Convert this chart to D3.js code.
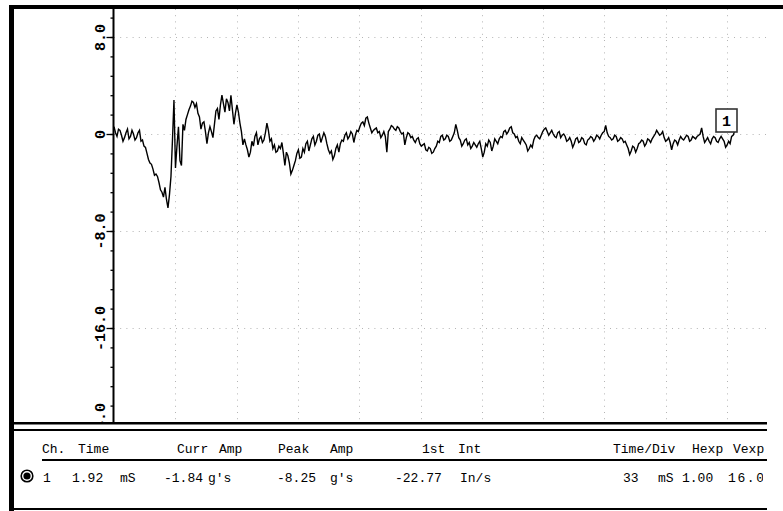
<!DOCTYPE html>
<html>
<head>
<meta charset="utf-8">
<script src="https://cdn.jsdelivr.net/npm/d3@7"></script>
<style>
  html, body { margin: 0; padding: 0; background: #fff; }
  svg { display: block; }
  text { font-family: "Liberation Mono", "DejaVu Sans Mono", monospace; fill: #000; }
</style>
</head>
<body>
<svg id="chart" width="783" height="511"></svg>
<script>
// Channel 1 acceleration trace, g's, sampled every ~0.8 ms
const accel = [
   0.6, 0.1,-0.2, 0.4, 0.3,-0.1,-0.6,-0.3, 0.1, 0.4,-0.4,-0.2, 0.3, 0.0,-0.5,-0.3, 0.1, 0.3,-0.6,-0.5,
  -1.0,-1.1,-1.6,-2.1,-2.4,-2.5,-2.9,-3.4,-3.3,-3.5,-4.0,-4.6,-4.8,-5.2,-4.4,-5.4,-6.1,-5.0,-3.5,-0.5,
   2.8,-2.8,-1.0, 0.6,-2.2,-2.6, 0.8, 0.3, 1.2, 1.6, 2.0, 2.3, 2.7, 2.6, 2.2, 2.5, 1.7, 1.4, 0.4, 0.9,
   1.0, 0.2,-0.8, 0.1, 0.6, 0.2,-0.3, 0.8, 1.9, 2.1, 1.2, 2.4, 3.2, 2.5, 1.8, 2.9, 2.6, 1.9, 3.2, 2.0,
   0.8, 1.7, 2.4, 1.8, 0.9, 0.2,-0.9,-0.4,-0.9,-1.3,-1.9,-1.5,-0.6,-1.0,-0.2, 0.1,-0.9,-0.4,-0.2,-0.7,
  -0.5, 0.1, 0.9, 0.3,-0.6,-0.4,-1.2,-0.9,-1.5,-1.4,-1.0,-1.2,-0.7,-1.6,-2.6,-1.5,-1.8,-2.4,-3.3,-3.0,
  -2.6,-2.2,-1.6,-1.3,-2.0,-1.9,-1.2,-1.5,-0.8,-0.6,-1.4,-0.9,-0.4,-0.2,-0.9,-0.6,-0.1, 0.0,-0.7,-0.3,
   0.1,-0.2,-0.8,-1.3,-1.6,-1.4,-2.1,-1.8,-1.2,-0.9,-1.5,-0.8,-0.5,-0.6,-0.1, 0.1,-0.4,-0.2, 0.2, 0.0,
  -0.7,-0.1, 0.3, 0.2, 0.6, 0.9, 1.0, 0.7, 1.3, 1.4, 0.9, 0.5, 0.1, 0.3, 0.4, 0.5, 0.1, 0.2,-0.3,-0.1,
   0.2,-0.2,-1.5, 0.2, 0.4, 0.7, 0.6, 0.4, 0.3, 0.6, 0.5, 0.2, 0.0, 0.1,-0.9,-0.3, 0.1, 0.0,-0.3,-0.2,
  -0.5,-0.7,-0.4,-0.3,-0.8,-1.0,-0.9,-0.8,-1.3,-1.4,-1.1,-1.2,-1.6,-1.5,-1.2,-1.0,-0.6,-0.7,-0.2,-0.1,
  -0.5,-0.4,-0.1,-0.2,-0.6,-0.5,-0.2, 0.1, 0.8, 0.3,-0.3,-0.5,-1.0,-0.8,-0.5,-0.4,-0.9,-0.7,-1.2,-1.0,
  -0.7,-0.9,-1.1,-0.8,-0.6,-1.2,-1.9,-1.5,-0.8,-1.0,-0.5,-0.7,-1.4,-1.0,-0.4,-0.6,-0.8,-0.4,-0.2,-0.3,
   0.2, 0.3, 0.0, 0.2, 0.5, 0.6, 0.1, 0.0,-0.3,-0.2,-0.6,-0.8,-0.3,-0.5,-0.7,-0.9,-1.4,-1.2,-0.9,-1.1,
  -0.5,-0.2,-0.1,-0.3,-0.4,-0.1, 0.2, 0.4, 0.5, 0.2,-0.1, 0.1, 0.3, 0.0,-0.2,-0.3, 0.1, 0.2,-0.3,-0.1,
   0.0,-0.2,-0.6,-0.5,-0.3,-0.6,-1.1,-0.8,-0.4,-0.3,-0.7,-0.6,-0.3,-0.4,-0.8,-0.9,-0.5,-0.4,-0.2,-0.3,
  -0.6,-0.4,-0.1,-0.2,-0.4,-0.1, 0.1, 0.2, 0.7, 0.1,-0.2,-0.3,-0.5,-0.4,-0.1,-0.2,-0.6,-0.5,-0.3,-0.4,
  -0.7,-0.6,-0.9,-1.2,-1.7,-1.4,-1.0,-1.1,-1.5,-1.2,-0.8,-0.7,-0.5,-0.6,-1.0,-0.8,-0.4,-0.5,-0.7,-0.4,
  -0.2, 0.0, 0.3, 0.1,-0.1, 0.0, 0.2,-0.3,-0.6,-0.5,-0.3,-0.7,-1.3,-0.8,-0.5,-0.6,-0.9,-0.5,-0.2,-0.4,
  -0.5,-0.3,-0.1,-0.2,-0.6,-0.5,-0.2,-0.3,-0.4,-0.2,-0.1, 0.0, 0.5,-0.2,-0.7,-0.5,-0.3,-0.6,-0.8,-0.4,
  -0.2,-0.3,-0.6,-0.7,-0.4,-0.2,-0.4,-0.6,-1.1,-0.9,-0.6,-0.8,-0.2,-0.1, 0.2
];
const sampleStepMs = 0.807;

// Amplitude axis (g's)
const ampTicks = [-24, -16, -8, 0, 8];
const ampTickLabels = ["-24.0", "-16.0", "-8.0", "0", "8.0"];
const ampMinorTicks = d3.range(-24, 10.5, 1.6);
const ampGrid = [-16, -8, 0, 8];

// Time divisions (33 ms per division)
const timeGrid = [33, 66, 99, 132, 165, 198, 231, 264, 297, 330];

// Readout table
const headerTexts = ["Ch.", "Time", "Curr", "Amp", "Peak", "Amp", "1st", "Int", "Time/Div", "Hexp", "Vexp"];
const readoutTexts = ["1", "1.92", "mS", "-1.84", "g's", "-8.25", "g's", "-22.77", "In/s", "33", "mS", "1.00", "16.0"];
const channelName = "1";

// ---- layout ----
const headerX = [42, 78, 177, 219, 278, 330, 422, 458, 613, 692, 733];
const readoutX = [43, 72, 120, 164, 208, 277, 330, 395, 460, 623, 658, 682, 728];
const readoutSpacing = [0, 0, 0, 0, 0, 0, 0, 0, 0, 0, 0, 0, 1.6];
const plot = { left: 114, top: 9, bottom: 422 };
const tableRight = 767;

const svg = d3.select("#chart");
const defs = svg.append("defs");
defs.append("clipPath").attr("id", "plotClip")
  .append("rect").attr("x", 0).attr("y", plot.top)
  .attr("width", 783).attr("height", plot.bottom - plot.top);
defs.append("clipPath").attr("id", "tableClip")
  .append("rect").attr("x", 0).attr("y", 432)
  .attr("width", tableRight - 4).attr("height", 80);

svg.append("rect").attr("width", 783).attr("height", 511).attr("fill", "#fff");

const x = d3.scaleLinear().domain([0, 330]).range([114, 727]);
const y = d3.scaleLinear().domain([-24, 8]).range([425, 37]);

const plotG = svg.append("g").attr("clip-path", "url(#plotClip)");

// dotted grid
plotG.append("g").selectAll("line").data(timeGrid).join("line")
  .attr("x1", d => Math.round(x(d)) + 0.5).attr("x2", d => Math.round(x(d)) + 0.5)
  .attr("y1", plot.top).attr("y2", plot.bottom)
  .attr("stroke", "#b4b4b4").attr("stroke-width", 1)
  .attr("stroke-dasharray", "1,5.2");
plotG.append("g").selectAll("line").data(ampGrid).join("line")
  .attr("x1", plot.left).attr("x2", tableRight)
  .attr("y1", d => Math.round(y(d)) + 0.5).attr("y2", d => Math.round(y(d)) + 0.5)
  .attr("stroke", "#b4b4b4").attr("stroke-width", 1)
  .attr("stroke-dasharray", "1,5.2");

// trace
const line = d3.line()
  .x((d, i) => x(i * sampleStepMs))
  .y(d => y(d));
plotG.append("path").datum(accel)
  .attr("d", line)
  .attr("fill", "none")
  .attr("stroke", "#000")
  .attr("stroke-width", 1.4)
  .attr("stroke-linejoin", "miter");

// channel tag at end of trace
const tEnd = (accel.length - 1) * sampleStepMs;
const tagX = Math.round(x(tEnd) - 18.5), tagY = 109;
plotG.append("rect").attr("x", tagX).attr("y", tagY)
  .attr("width", 21).attr("height", 23)
  .attr("fill", "#fff").attr("stroke", "#333").attr("stroke-width", 1.6);
plotG.append("text").attr("x", tagX + 10.5).attr("y", tagY + 17)
  .attr("text-anchor", "middle").attr("font-weight", "bold")
  .attr("font-size", 15).text(channelName);

// amplitude axis
const axisG = plotG.append("g").attr("transform", `translate(${plot.left - 0.5},0)`);
axisG.call(d3.axisLeft(y).tickValues(ampMinorTicks).tickSize(3).tickFormat(""))
  .call(g => g.select(".domain").remove());
const majorG = plotG.append("g").attr("transform", `translate(${plot.left - 0.5},0)`);
majorG.call(d3.axisLeft(y).tickValues(ampTicks).tickSize(7).tickSizeOuter(0)
    .tickFormat((d, i) => ampTickLabels[i]))
  .call(g => g.select(".domain").remove());
majorG.selectAll("text")
  .attr("x", null).attr("dy", null).attr("y", null)
  .attr("text-anchor", "middle")
  .attr("transform", "translate(-9,0) rotate(-90)")
  .attr("font-family", "'Liberation Mono', monospace")
  .attr("font-weight", "bold").attr("font-size", 15).attr("fill", "#000");
plotG.selectAll(".tick line").attr("stroke", "#000").attr("stroke-width", 1.3);
plotG.append("line")
  .attr("x1", plot.left - 0.5).attr("x2", plot.left - 0.5)
  .attr("y1", plot.top).attr("y2", plot.bottom)
  .attr("stroke", "#000").attr("stroke-width", 2);

// frame
svg.append("rect").attr("x", 9).attr("y", 5).attr("width", 774).attr("height", 4).attr("fill", "#000");
svg.append("rect").attr("x", 9).attr("y", 5).attr("width", 5).attr("height", 506).attr("fill", "#000");
svg.append("rect").attr("x", 14).attr("y", 422).attr("width", tableRight - 14).attr("height", 2.5).attr("fill", "#000");
svg.append("rect").attr("x", 14).attr("y", 429).attr("width", tableRight - 14).attr("height", 2).attr("fill", "#000");
svg.append("rect").attr("x", 14).attr("y", 508).attr("width", tableRight - 14).attr("height", 2).attr("fill", "#000");

// readout table
const tableG = svg.append("g").attr("font-size", 13);
tableG.selectAll("text.hdr").data(headerTexts).join("text").attr("class", "hdr")
  .attr("x", (d, i) => headerX[i]).attr("y", 453).text(d => d);
tableG.append("rect").attr("x", 42).attr("y", 459).attr("width", tableRight - 42).attr("height", 2).attr("fill", "#000");
tableG.append("g").attr("clip-path", "url(#tableClip)")
  .selectAll("text.val").data(readoutTexts).join("text").attr("class", "val")
  .attr("x", (d, i) => readoutX[i]).attr("y", 482)
  .attr("letter-spacing", (d, i) => readoutSpacing[i])
  .text(d => d);

// selected-channel radio button
svg.append("circle").attr("cx", 27).attr("cy", 476).attr("r", 5.8)
  .attr("fill", "#fff").attr("stroke", "#000").attr("stroke-width", 1.6);
svg.append("circle").attr("cx", 27).attr("cy", 476).attr("r", 3.6).attr("fill", "#000");
</script>
</body>
</html>
